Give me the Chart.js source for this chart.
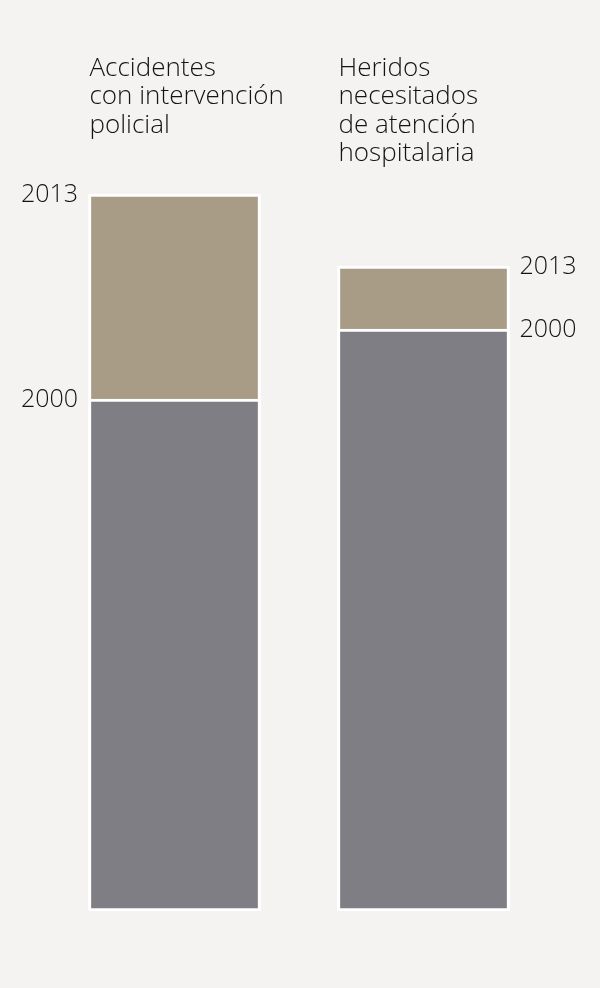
<!DOCTYPE html>
<html lang="es">
<head>
<meta charset="utf-8">
<title>Accidentes y heridos, 2000 y 2013</title>
<script src="https://cdn.jsdelivr.net/npm/chart.js@4.4.1/dist/chart.umd.min.js"></script>
<style>
    html, body { margin: 0; padding: 0; background: #f4f3f1; }
    #wrap { width: 600px; height: 988px; position: relative; }
</style>
</head>
<body>
<div id="wrap"><canvas id="chart" width="600" height="988"></canvas></div>
<script>
// Data (relative units, same scale for both bars)
const categories = [
    ['Accidentes', 'con intervención', 'policial'],
    ['Heridos', 'necesitados', 'de atención', 'hospitalaria']
];
const years = ['2000', '2013'];
const values2000 = [512, 582];
const values2013 = [717, 645];
const labelSide = ['left', 'right'];

const textColor = '#141414';
const titleFont = '300 26px "Open Sans", "Lato", sans-serif';
const yearFont = '300 25px "Open Sans", "Lato", sans-serif';

// Draws the titles above each bar and the year labels at the bar tops
const labelsPlugin = {
    id: 'labels',
    afterDatasetsDraw(chart) {
        const ctx = chart.ctx;
        const meta2000 = chart.getDatasetMeta(0);
        const meta2013 = chart.getDatasetMeta(1);
        ctx.save();
        ctx.fillStyle = textColor;

        categories.forEach(function (lines, i) {
            const bar = meta2013.data[i];
            const left = bar.x - bar.width / 2 + 1;
            const right = bar.x + bar.width / 2;

            // title
            ctx.font = titleFont;
            ctx.textAlign = 'left';
            ctx.textBaseline = 'alphabetic';
            lines.forEach(function (line, j) {
                ctx.fillText(line, left, 76 + j * 28.3);
            });

            // year labels
            ctx.font = yearFont;
            ctx.textBaseline = 'middle';
            ctx.textAlign = 'left';
            const pts = [meta2000.data[i], meta2013.data[i]];
            pts.forEach(function (el, k) {
                const x = labelSide[i] === 'left' ? 21 : right + 10;
                ctx.fillText(years[k], x, el.y + 1);
            });
        });
        ctx.restore();
    }
};

const ctx = document.getElementById('chart').getContext('2d');
new Chart(ctx, {
    type: 'bar',
    data: {
        labels: categories.map(function (c) { return c.join(' '); }),
        datasets: [{
            label: years[0],
            data: values2000,
            backgroundColor: '#7f7e84',
            borderColor: '#ffffff',
            borderWidth: 3,
            borderSkipped: false,
            grouped: false,
            barThickness: 172
        }, {
            label: years[1],
            data: values2013,
            backgroundColor: '#a89c86',
            borderColor: '#ffffff',
            borderWidth: 3,
            borderSkipped: false,
            grouped: false,
            barThickness: 172
        }]
    },
    options: {
        responsive: false,
        animation: false,
        layout: {
            padding: { top: 111, bottom: 77, left: 50, right: 52 }
        },
        scales: {
            x: { display: false },
            y: { display: false, min: 0, max: 800 }
        },
        plugins: {
            legend: { display: false },
            tooltip: { enabled: false }
        }
    },
    plugins: [labelsPlugin]
});
</script>
</body>
</html>
